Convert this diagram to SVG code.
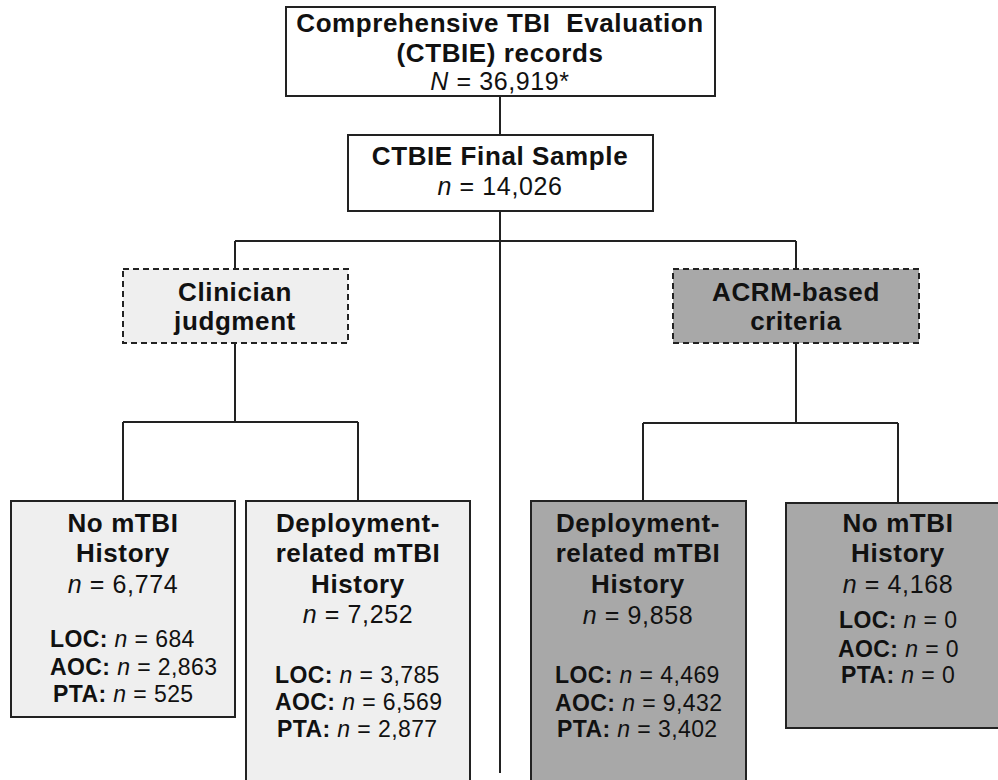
<svg xmlns="http://www.w3.org/2000/svg" width="998" height="780" viewBox="0 0 998 780">
<style>
text{font-family:"Liberation Sans",Arial,sans-serif;fill:#111;}
.b{font-weight:bold;font-size:26px;letter-spacing:0.6px;text-anchor:middle;}
.n{font-size:25px;letter-spacing:0.6px;text-anchor:middle;}
.s{font-size:23px;letter-spacing:0.4px;}
.s tspan.k{font-weight:bold;}
.i{font-style:italic;}
.box{stroke:#222;stroke-width:2;}
.dash{stroke:#222;stroke-width:2;stroke-dasharray:6,4;}
.w{fill:#ffffff;}
.l{fill:#efefef;}
.d{fill:#a8a8a8;}
.c{stroke:#222;stroke-width:2;fill:none;}
</style>
<rect width="998" height="780" fill="#ffffff"/>
<g id="connectors">
<path class="c" d="M500,96V135M500,211V773M235,241H796M235,241V269M796,241V269M235,343V422M123,422H358M123,422V501M358,422V501M796,343V423M643,423H898M643,423V501M898,423V503"/>
</g>
<g id="ctbie-records">
<rect class="box w" x="286" y="7" width="429" height="89"/>
<text class="b" x="500" y="32" xml:space="preserve">Comprehensive TBI  Evaluation</text>
<text class="b" x="500" y="62">(CTBIE) records</text>
<text class="n" x="500" y="90"><tspan class="i">N</tspan> = 36,919*</text>
</g>
<g id="final-sample">
<rect class="box w" x="348" y="135" width="305" height="76"/>
<text class="b" x="500" y="165">CTBIE Final Sample</text>
<text class="n" x="500" y="195"><tspan class="i">n</tspan> = 14,026</text>
</g>
<g id="clinician">
<rect class="dash l" x="123" y="269" width="225" height="74"/>
<text class="b" x="235" y="301">Clinician</text>
<text class="b" x="235" y="330">judgment</text>
</g>
<g id="acrm">
<rect class="dash d" x="673" y="269" width="246" height="74"/>
<text class="b" x="796" y="301">ACRM-based</text>
<text class="b" x="796" y="330">criteria</text>
</g>
<g id="clin-no">
<rect class="box l" x="11" y="501" width="224" height="216"/>
<text class="b" x="123" y="532">No mTBI</text>
<text class="b" x="123" y="562">History</text>
<text class="n" x="123" y="593"><tspan class="i">n</tspan> = 6,774</text>
<text class="s" x="50" y="647"><tspan class="k">LOC:</tspan> <tspan class="i">n</tspan> = 684</text>
<text class="s" x="50" y="675"><tspan class="k">AOC:</tspan> <tspan class="i">n</tspan> = 2,863</text>
<text class="s" x="53" y="702"><tspan class="k">PTA:</tspan> <tspan class="i">n</tspan> = 525</text>
</g>
<g id="clin-dep">
<rect class="box l" x="246" y="501" width="224" height="290"/>
<text class="b" x="358" y="532">Deployment-</text>
<text class="b" x="358" y="562">related mTBI</text>
<text class="b" x="358" y="593">History</text>
<text class="n" x="358" y="623"><tspan class="i">n</tspan> = 7,252</text>
<text class="s" x="275" y="683"><tspan class="k">LOC:</tspan> <tspan class="i">n</tspan> = 3,785</text>
<text class="s" x="275" y="710"><tspan class="k">AOC:</tspan> <tspan class="i">n</tspan> = 6,569</text>
<text class="s" x="277" y="737"><tspan class="k">PTA:</tspan> <tspan class="i">n</tspan> = 2,877</text>
</g>
<g id="acrm-dep">
<rect class="box d" x="531" y="501" width="215" height="290"/>
<text class="b" x="638" y="532">Deployment-</text>
<text class="b" x="638" y="562">related mTBI</text>
<text class="b" x="638" y="593">History</text>
<text class="n" x="638" y="624"><tspan class="i">n</tspan> = 9,858</text>
<text class="s" x="555" y="683"><tspan class="k">LOC:</tspan> <tspan class="i">n</tspan> = 4,469</text>
<text class="s" x="555" y="711"><tspan class="k">AOC:</tspan> <tspan class="i">n</tspan> = 9,432</text>
<text class="s" x="557" y="737"><tspan class="k">PTA:</tspan> <tspan class="i">n</tspan> = 3,402</text>
</g>
<g id="acrm-no">
<rect class="box d" x="786" y="503" width="224" height="225"/>
<text class="b" x="898" y="532">No mTBI</text>
<text class="b" x="898" y="562">History</text>
<text class="n" x="898" y="593"><tspan class="i">n</tspan> = 4,168</text>
<text class="s" x="839" y="628"><tspan class="k">LOC:</tspan> <tspan class="i">n</tspan> = 0</text>
<text class="s" x="838" y="657"><tspan class="k">AOC:</tspan> <tspan class="i">n</tspan> = 0</text>
<text class="s" x="841" y="683"><tspan class="k">PTA:</tspan> <tspan class="i">n</tspan> = 0</text>
</g>
</svg>
